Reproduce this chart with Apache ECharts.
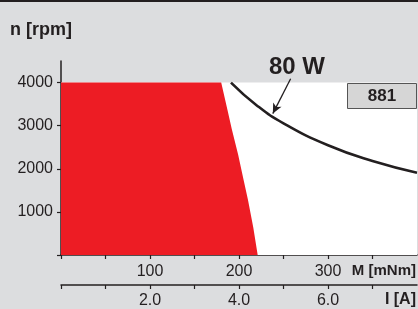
<!DOCTYPE html>
<html>
<head>
<meta charset="utf-8">
<script src="https://cdn.jsdelivr.net/npm/echarts@6/dist/echarts.min.js"></script>
<style>
  html, body { margin: 0; padding: 0; background: #dcdddf; }
  #chart { width: 418px; height: 309px; }
</style>
</head>
<body>
<div id="chart"></div>
<script>
// operating range data
const speedTicks = [1000, 2000, 3000, 4000];
const torqueTicks = [100, 200, 300];
const currentTicks = [2, 4, 6];
const maxSpeed = 4000;

// continuous operation area (red): torque [mNm], speed [rpm]
const continuousArea = [[0, 4000], [180, 4000], [187, 3370], [192, 2910], [199, 2330],
    [205, 1755], [210, 1290], [216, 645], [221, 0]];
// 80 W power limit curve
const powerCurve = [[191, 4000], [220, 3470], [250, 3055], [300, 2545], [350, 2180], [400, 1910]];
// arrow from the "80 W" label to the curve
const arrowFrom = [258, 4090];
const arrowTo = [238, 3280];

const font = '"Liberation Sans", Arial, sans-serif';
const ink = '#231f20';

const chart = echarts.init(document.getElementById('chart'));

const option = {
    backgroundColor: '#dcdddf',
    animation: false,
    grid: { left: 61, top: 61, width: 356, height: 195 },
    xAxis: [{
        type: 'value',
        min: 0,
        max: 400,
        interval: 50,
        position: 'bottom',
        splitLine: { show: false },
        axisLine: { lineStyle: { color: ink, width: 1.5 } },
        axisTick: { length: 4, lineStyle: { color: ink, width: 1.2 }, customValues: [0, 50, 100, 150, 200, 250, 300, 350] },
        axisLabel: { customValues: torqueTicks, margin: 9, fontSize: 16, color: ink, fontFamily: font }
    }, {
        type: 'value',
        min: 0,
        max: 8,
        interval: 1,
        position: 'bottom',
        offset: 30,
        splitLine: { show: false },
        axisLine: { lineStyle: { color: ink, width: 1.5 } },
        axisTick: { length: 4, lineStyle: { color: ink, width: 1.2 }, customValues: [0, 1, 2, 3, 4, 5, 6, 7] },
        axisLabel: {
            customValues: currentTicks, margin: 8, fontSize: 16, color: ink, fontFamily: font,
            formatter: v => v.toFixed(1)
        }
    }],
    yAxis: {
        type: 'value',
        min: 0,
        max: 4500,
        splitLine: { show: false },
        axisLine: { show: true, lineStyle: { color: ink, width: 1.5 } },
        axisTick: { show: true, length: 4, lineStyle: { color: ink, width: 1.2 }, customValues: [0].concat(speedTicks) },
        axisLabel: {
            customValues: speedTicks, margin: 8, fontSize: 16, color: ink, fontFamily: font,
            formatter: v => String(v)
        }
    },
    series: [{
        // white operating field up to max speed
        type: 'line',
        data: [[0, maxSpeed], [400, maxSpeed]],
        symbol: 'none',
        silent: true,
        z: 1,
        lineStyle: { opacity: 0 },
        areaStyle: { color: '#ffffff', opacity: 1 }
    }, {
        type: 'line',
        data: continuousArea,
        symbol: 'none',
        silent: true,
        z: 2,
        lineStyle: { opacity: 0 },
        areaStyle: { color: '#ed1c24', opacity: 1 }
    }, {
        type: 'line',
        data: powerCurve,
        symbol: 'none',
        smooth: true,
        silent: true,
        z: 3,
        lineStyle: { color: ink, width: 2.6 },
        markLine: {
            silent: true,
            symbol: ['none', 'arrow'],
            symbolSize: [7, 10],
            label: { show: false },
            lineStyle: { color: ink, width: 1.3, type: 'solid' },
            data: [[{ coord: arrowFrom }, { coord: arrowTo }]]
        }
    }],
    graphic: [
        { type: 'rect', z: 10, shape: { x: 0, y: 0, width: 418, height: 2 }, style: { fill: ink } },
        {
            type: 'text', z: 10, left: 10, top: 21,
            style: { text: 'n [rpm]', font: 'bold 18px ' + font, fill: ink }
        },
        {
            type: 'text', z: 10, x: 297, y: 67,
            style: { text: '80 W', font: 'bold 24px ' + font, fill: ink, align: 'center', verticalAlign: 'middle' }
        },
        {
            type: 'rect', z: 10, shape: { x: 347.5, y: 83.5, width: 69, height: 25 },
            style: { fill: '#d6d6d6', stroke: '#555555', lineWidth: 1 }
        },
        {
            type: 'text', z: 11, x: 382, y: 96.5,
            style: { text: '881', font: 'bold 17px ' + font, fill: ink, align: 'center', verticalAlign: 'middle' }
        },
        {
            type: 'text', z: 10, x: 416, y: 271,
            style: { text: 'M [mNm]', font: 'bold 15px ' + font, fill: ink, align: 'right', verticalAlign: 'middle' }
        },
        {
            type: 'text', z: 10, x: 416, y: 300,
            style: { text: 'I [A]', font: 'bold 16px ' + font, fill: ink, align: 'right', verticalAlign: 'middle' }
        }
    ]
};

chart.setOption(option);
</script>
</body>
</html>
